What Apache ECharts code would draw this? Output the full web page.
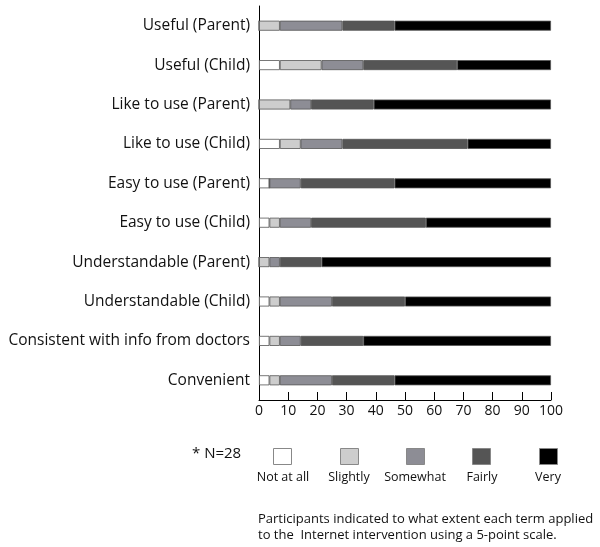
<!DOCTYPE html>
<html>
<head>
<meta charset="utf-8">
<script src="https://cdn.jsdelivr.net/npm/echarts@6/dist/echarts.min.js"></script>
<style>
  html, body { margin: 0; padding: 0; background: #fff; }
  #chart { width: 600px; height: 547px; }
</style>
</head>
<body>
<div id="chart"></div>
<script>
// rows, top to bottom
const categories = [
  'Useful (Parent)', 'Useful (Child)', 'Like to use (Parent)', 'Like to use (Child)',
  'Easy to use (Parent)', 'Easy to use (Child)', 'Understandable (Parent)',
  'Understandable (Child)', 'Consistent with info from doctors', 'Convenient'
]
const levels = ['Not at all', 'Slightly', 'Somewhat', 'Fairly', 'Very']
const colors = ['#ffffff', '#cdcdcd', '#8d8d95', '#555555', '#000000']

// percent of participants (N=28)
const notAtAll = [0, 7.14, 0, 7.14, 3.57, 3.57, 0, 3.57, 3.57, 3.57]
const slightly = [7.14, 14.29, 10.71, 7.14, 0, 3.57, 3.57, 3.57, 3.57, 3.57]
const somewhat = [21.43, 14.29, 7.14, 14.29, 10.71, 10.71, 3.57, 17.86, 7.14, 17.86]
const fairly = [17.86, 32.14, 21.43, 42.86, 32.14, 39.29, 14.29, 25, 21.43, 21.43]
const very = [53.57, 32.14, 60.71, 28.57, 53.57, 42.86, 78.57, 50, 64.29, 53.57]
const seriesData = [notAtAll, slightly, somewhat, fairly, very]

const xTicks = [0, 10, 20, 30, 40, 50, 60, 70, 80, 90, 100]

const font = 'Open Sans'
const chart = echarts.init(document.getElementById('chart'))

const legendX = [273, 340, 406, 472, 539]
const legendLabelX = [283, 349, 415, 482, 548]

const option = {
  animation: false,
  grid: { left: 259, right: 49, top: 6, height: 394 },
  xAxis: {
    type: 'value',
    min: 0,
    max: 100,
    interval: 10,
    axisLine: { show: true, lineStyle: { color: '#000', width: 1 } },
    axisTick: { show: true, inside: true, length: 8, lineStyle: { color: '#000' } },
    axisLabel: {
      color: '#111', fontFamily: font, fontSize: 14, margin: 4,
      formatter: v => xTicks.includes(v) ? String(v) : ''
    },
    splitLine: { show: false }
  },
  yAxis: {
    type: 'category',
    data: categories,
    inverse: true,
    axisLine: { show: true, lineStyle: { color: '#000', width: 1 } },
    axisTick: { show: false },
    axisLabel: { color: '#111', fontFamily: font, fontSize: 15.5, margin: 9 }
  },
  legend: levels.map((name, i) => ({
    data: [name],
    left: legendX[i],
    top: 448,
    icon: 'rect',
    itemWidth: 18,
    itemHeight: 16,
    padding: 0,
    selectedMode: false,
    formatter: () => '',
    itemStyle: { borderColor: '#888', borderWidth: 1 }
  })),
  graphic: [
    { type: 'text', left: 192, top: 446, style: { text: '* N=28', font: '15px "Open Sans"', fill: '#111' } },
    ...levels.map((name, i) => ({
      type: 'text', x: legendLabelX[i], y: 471,
      style: { text: name, font: '12.5px "Open Sans"', fill: '#111', align: 'center' }
    })),
    { type: 'text', left: 258, top: 511,
      style: { text: 'Participants indicated to what extent each term applied\nto the  Internet intervention using a 5-point scale.',
        font: '13px "Open Sans"', fill: '#111', lineHeight: 16 } }
  ],
  series: levels.map((name, i) => ({
    name: name,
    type: 'bar',
    stack: 'total',
    barWidth: 10,
    data: seriesData[i],
    itemStyle: { color: colors[i], borderColor: '#555', borderWidth: 0.8 }
  }))
}

chart.setOption(option)
</script>
</body>
</html>
